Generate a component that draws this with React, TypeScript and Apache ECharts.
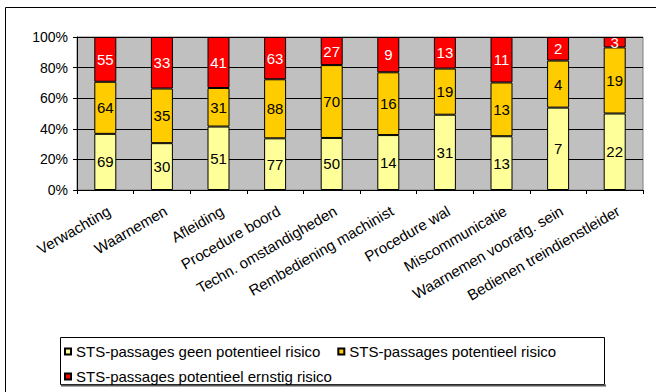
import React, { useEffect, useRef } from "react";
import * as echarts from "echarts";

const categories = [
  "Verwachting",
  "Waarnemen",
  "Afleiding",
  "Procedure boord",
  "Techn. omstandigheden",
  "Rembediening machinist",
  "Procedure wal",
  "Miscommunicatie",
  "Waarnemen voorafg. sein",
  "Bedienen treindienstleider",
];
const geenRisico = [69, 30, 51, 77, 50, 14, 31, 13, 7, 22];
const potentieelRisico = [64, 35, 31, 88, 70, 16, 19, 13, 4, 19];
const ernstigRisico = [55, 33, 41, 63, 27, 9, 13, 11, 2, 3];
const seriesNames = [
  "STS-passages geen potentieel risico",
  "STS-passages potentieel risico",
  "STS-passages potentieel ernstig risico",
];
const yTicks = [0, 20, 40, 60, 80, 100];

const FONT = "'Liberation Sans', Arial, sans-serif";

export default function App() {
  const ref = useRef<HTMLDivElement>(null);
  useEffect(() => {
    if (!ref.current) return;
    const chart = echarts.init(ref.current, null, { renderer: "svg" });
    const totals = categories.map(
      (_, i) => geenRisico[i] + potentieelRisico[i] + ernstigRisico[i]
    );
    const pct = (arr: number[]) => arr.map((v, i) => (v / totals[i]) * 100);
    const raw = [geenRisico, potentieelRisico, ernstigRisico];
    const colors = ["#FFFF99", "#FFCC00", "#FF0000"];
    const labelColors = ["#000", "#000", "#fff"];

    chart.setOption({
      animation: false,
      textStyle: { fontFamily: FONT },
      grid: {
        left: 77,
        top: 37,
        right: 13,
        bottom: 202,
        show: true,
        backgroundColor: "#C0C0C0",
        borderColor: "#808080",
        borderWidth: 1,
        containLabel: false,
        outerBoundsMode: "none",
      },
      graphic: [
        {
          type: "rect",
          shape: { x: 5.5, y: 7.5, width: 700, height: 500 },
          style: { fill: "none", stroke: "#000", lineWidth: 1 },
          silent: true,
        },
        {
          type: "rect",
          shape: { x: 60.5, y: 337.5, width: 544, height: 47 },
          style: { fill: "#fff", stroke: "#000", lineWidth: 1 },
          silent: true,
          z: -1,
        },
        {
          type: "line",
          shape: { x1: 61, y1: 385.5, x2: 606, y2: 385.5 },
          style: { stroke: "#555", lineWidth: 2 },
          silent: true,
        },
      ],
      legend: {
        left: 64,
        top: 344,
        width: 536,
        padding: 0,
        itemWidth: 6,
        itemHeight: 6,
        itemGap: 10,
        icon: "rect",
        textStyle: {
          fontFamily: FONT,
          fontSize: 15,
          lineHeight: 15,
          color: "#000",
          padding: [0, 7, 0, 0],
        },
        data: seriesNames,
      },
      xAxis: {
        type: "category",
        data: categories,
        axisLine: { show: true, lineStyle: { color: "#000", width: 1 } },
        axisTick: { show: true, length: 4, lineStyle: { color: "#000" } },
        axisLabel: {
          interval: 0,
          rotate: 30,
          margin: 13,
          verticalAlign: "top",
          fontSize: 15,
          color: "#000",
          fontFamily: FONT,
        },
      },
      yAxis: {
        type: "value",
        min: 0,
        max: 100,
        interval: 20,
        axisLine: { show: true, lineStyle: { color: "#000", width: 1 } },
        axisTick: { show: true, length: 4, lineStyle: { color: "#000" } },
        splitLine: { show: true, lineStyle: { color: "#000", width: 1 } },
        axisLabel: {
          formatter: (v: number) => (yTicks.includes(v) ? v + "%" : ""),
          fontSize: 14,
          margin: 9,
          color: "#000",
          fontFamily: FONT,
        },
      },
      series: raw.map((arr, s) => ({
        name: seriesNames[s],
        type: "bar",
        stack: "total",
        barWidth: 22,
        data: pct(arr),
        itemStyle: { color: colors[s], borderColor: "#000", borderWidth: 1 },
        label: {
          show: true,
          position: "inside",
          fontSize: 15,
          color: labelColors[s],
          fontFamily: FONT,
          formatter: (p: any) => String(arr[p.dataIndex]),
        },
      })),
    });
    return () => chart.dispose();
  }, []);
  return (
    <div
      ref={ref}
      style={{ position: "absolute", left: 0, top: 0, width: 656, height: 392, background: "#fff" }}
    />
  );
}
